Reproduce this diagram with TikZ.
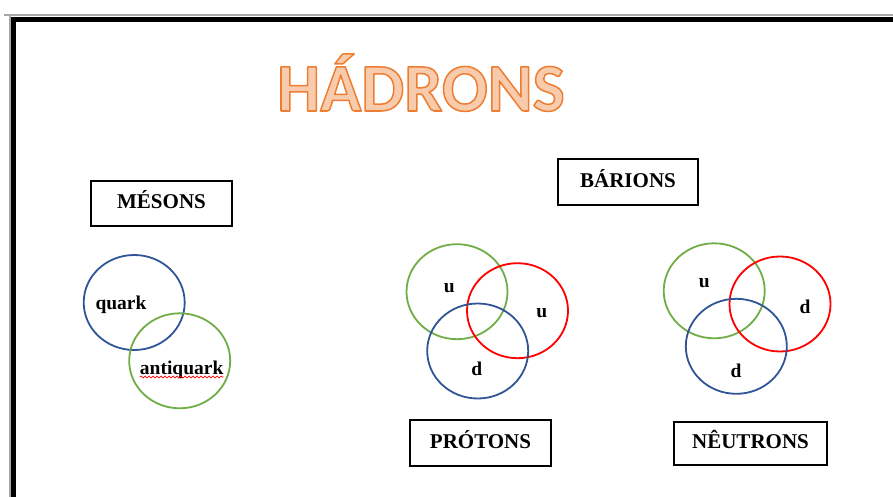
\documentclass[tikz,border=0pt]{standalone}
\usepackage{fontspec}
\setmainfont{Liberation Serif}
\newfontfamily\titlefont{Carlito}
\usetikzlibrary{shapes.geometric, decorations.pathmorphing}

\definecolor{azul}{HTML}{2F5597}
\definecolor{verde}{HTML}{70AD47}
\definecolor{vermelho}{HTML}{FF0000}
\definecolor{laranja}{HTML}{ED7D31}
\definecolor{pessego}{HTML}{F8CBAD}

% texto preenchido com contorno (modo de renderizacao 2)
\newcommand{\contornado}[1]{%
  \special{pdf:literal 0.929 0.490 0.192 RG 1.5 w 1 j 2 Tr}#1\special{pdf:literal 0 Tr}}

\tikzset{
  caixa/.style={draw, line width=1.6pt, minimum height=46, text height=14pt, text depth=4pt,
    font=\bfseries\fontsize{21}{21}\selectfont},
  quark/.style={draw, ellipse, line width=1.8pt, minimum width=101, minimum height=95, inner sep=0pt},
  rotulo/.style={anchor=base, inner sep=0pt, font=\bfseries\fontsize{19.5}{19.5}\selectfont},
  titulo/.style={anchor=base, inner sep=0pt, text=pessego, font=\titlefont\bfseries\fontsize{68}{68}\selectfont},
}

\begin{document}
\begin{tikzpicture}[x=1pt, y=-1pt]
  \useasboundingbox (0,0) rectangle (893,497);

  % moldura da pagina
  \draw[gray!70, line width=1.5pt] (4,14.8) -- (893,14.8) (9.8,14.8) -- (9.8,497);
  \draw[line width=4.6pt] (13.5,497) -- (13.5,19.3) -- (893,19.3);

  % titulo
  \node[titulo] (titulo) at (421,111) {\contornado{HÁDRONS}};

  % mesons
  \node[caixa, minimum width=141, minimum height=45] (mesons) at (161.5,203.5) {MÉSONS};
  \node[quark, azul] (mq) at (134.2,302.5) {};
  \node[quark, verde] (maq) at (179.7,360.8) {};
  \node[rotulo] (tq) at (121,309) {quark};
  \node[rotulo] (taq) at (181.7,374) {antiquark};
  \draw[vermelho, line width=0.7pt, decorate, decoration={snake, amplitude=1pt, segment length=4pt}]
    ([yshift=-3pt]taq.base west) -- ([yshift=-3pt]taq.base east);

  % barions
  \node[caixa, minimum width=140] (barions) at (628,182) {BÁRIONS};

  % protons: u u d
  \node[quark, verde] (pu1) at (457,291.7) {};
  \node[quark, vermelho] (pu2) at (517.5,310.7) {};
  \node[quark, azul] (pd) at (477.7,351) {};
  \node[rotulo] (tpu1) at (449.3,292) {u};
  \node[rotulo] (tpu2) at (541.7,317.7) {u};
  \node[rotulo] (tpd) at (476.7,375.7) {d};
  \node[caixa, minimum width=141] (protons) at (480.5,443) {PRÓTONS};

  % neutrons: u d d
  \node[quark, verde] (nu) at (714.2,290.8) {};
  \node[quark, vermelho] (nd1) at (780,304) {};
  \node[quark, azul] (nd2) at (736.3,346.3) {};
  \node[rotulo] (tnu) at (704.3,287.3) {u};
  \node[rotulo] (tnd1) at (805,313.3) {d};
  \node[rotulo] (tnd2) at (736,377.7) {d};
  \node[caixa, minimum width=153, minimum height=43] (neutrons) at (750.5,443.5) {NÊUTRONS};
\end{tikzpicture}
\end{document}
